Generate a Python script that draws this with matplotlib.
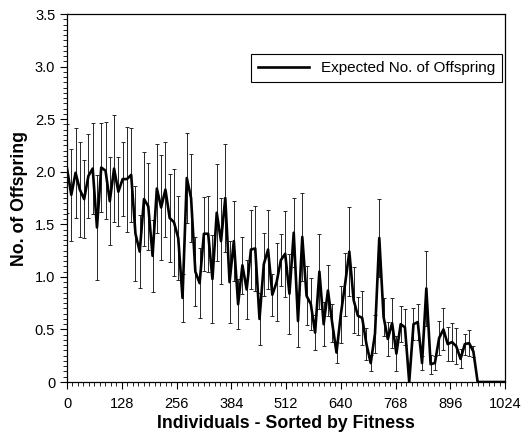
import numpy as np
import matplotlib.pyplot as plt
from matplotlib.ticker import MultipleLocator, AutoMinorLocator

plt.rcParams['font.family'] = ['Liberation Sans', 'DejaVu Sans']

# expected offspring per group of 10 individuals (sorted by fitness)
mean = [2.03, 1.78, 1.99, 1.83, 1.74, 1.96, 2.03, 1.47, 2.04, 2.01,
        1.72, 2.03, 1.81, 1.93, 1.93, 1.97, 1.41, 1.24, 1.74, 1.67,
        1.20, 1.84, 1.66, 1.83, 1.56, 1.52, 1.37, 0.80, 1.94, 1.75,
        1.05, 0.94, 1.41, 1.41, 0.98, 1.61, 1.34, 1.75, 0.95, 1.34,
        0.74, 1.11, 0.88, 1.26, 1.27, 0.60, 1.12, 1.26, 0.83, 0.95,
        1.16, 1.22, 0.84, 1.42, 0.58, 1.38, 0.82, 0.74, 0.47, 1.05,
        0.55, 0.87, 0.56, 0.28, 0.64, 0.93, 1.24, 0.78, 0.63, 0.61,
        0.36, 0.18, 0.46, 1.37, 0.62, 0.41, 0.56, 0.27, 0.55, 0.52,
        0.00, 0.55, 0.57, 0.18, 0.89, 0.17, 0.18, 0.42, 0.50, 0.36,
        0.38, 0.34, 0.22, 0.36, 0.37, 0.29]
err = [0.42, 0.44, 0.43, 0.45, 0.37, 0.40, 0.43, 0.50, 0.42, 0.46,
       0.42, 0.51, 0.33, 0.35, 0.50, 0.45, 0.45, 0.35, 0.45, 0.41,
       0.34, 0.42, 0.50, 0.45, 0.42, 0.51, 0.40, 0.23, 0.43, 0.42,
       0.33, 0.33, 0.35, 0.36, 0.42, 0.46, 0.41, 0.51, 0.39, 0.38,
       0.24, 0.27, 0.28, 0.38, 0.40, 0.25, 0.30, 0.38, 0.20, 0.37,
       0.25, 0.41, 0.38, 0.33, 0.25, 0.42, 0.28, 0.25, 0.17, 0.36,
       0.21, 0.24, 0.18, 0.10, 0.27, 0.30, 0.42, 0.31, 0.18, 0.26,
       0.15, 0.08, 0.18, 0.37, 0.18, 0.16, 0.24, 0.17, 0.17, 0.17,
       0.00, 0.15, 0.17, 0.07, 0.36, 0.09, 0.07, 0.16, 0.20, 0.16,
       0.18, 0.17, 0.09, 0.10, 0.12, 0.05]
tail = [0.0] * 8  # no offspring for the least fit individuals

x = np.arange(len(mean)) * 10
x_all = np.arange(len(mean) + len(tail)) * 10
y_all = mean + tail

fig = plt.figure(figsize=(5.22, 4.34), dpi=100)
ax = fig.add_axes([0.1284, 0.1198, 0.8391, 0.8479])

ax.errorbar(x, mean, yerr=err, fmt='none', ecolor='0.15', elinewidth=0.7,
            capsize=1.6, capthick=0.7)
ax.plot(x_all, y_all, color='black', lw=1.9, label='Expected No. of Offspring')

ax.set_xlim(0, 1024)
ax.set_ylim(0, 3.5)
ax.xaxis.set_major_locator(MultipleLocator(128))
ax.xaxis.set_minor_locator(AutoMinorLocator(10))
ax.yaxis.set_minor_locator(AutoMinorLocator(10))
ax.set_yticks(np.arange(0, 3.51, 0.5))
ax.set_yticklabels(['0'] + ['%.1f' % v for v in np.arange(0.5, 3.51, 0.5)])
ax.tick_params(which='major', direction='out', length=5, width=0.8, labelsize=10.5)
ax.tick_params(axis='x', which='major', pad=6)
ax.tick_params(which='minor', direction='out', length=3, width=0.6)
for s in ax.spines.values():
    s.set_linewidth(0.9)

ax.set_xlabel('Individuals - Sorted by Fitness', fontsize=12.8, fontweight='bold', labelpad=3)
ax.set_ylabel('No. of Offspring', fontsize=12.8, fontweight='bold', labelpad=5)

leg = ax.legend(loc='upper right', bbox_to_anchor=(0.993, 0.891), borderaxespad=0,
                fancybox=False, edgecolor='black', framealpha=1, fontsize=11,
                handlelength=3.3, borderpad=0.45)
leg.get_frame().set_linewidth(0.8)

plt.savefig('out.png', dpi=100)
